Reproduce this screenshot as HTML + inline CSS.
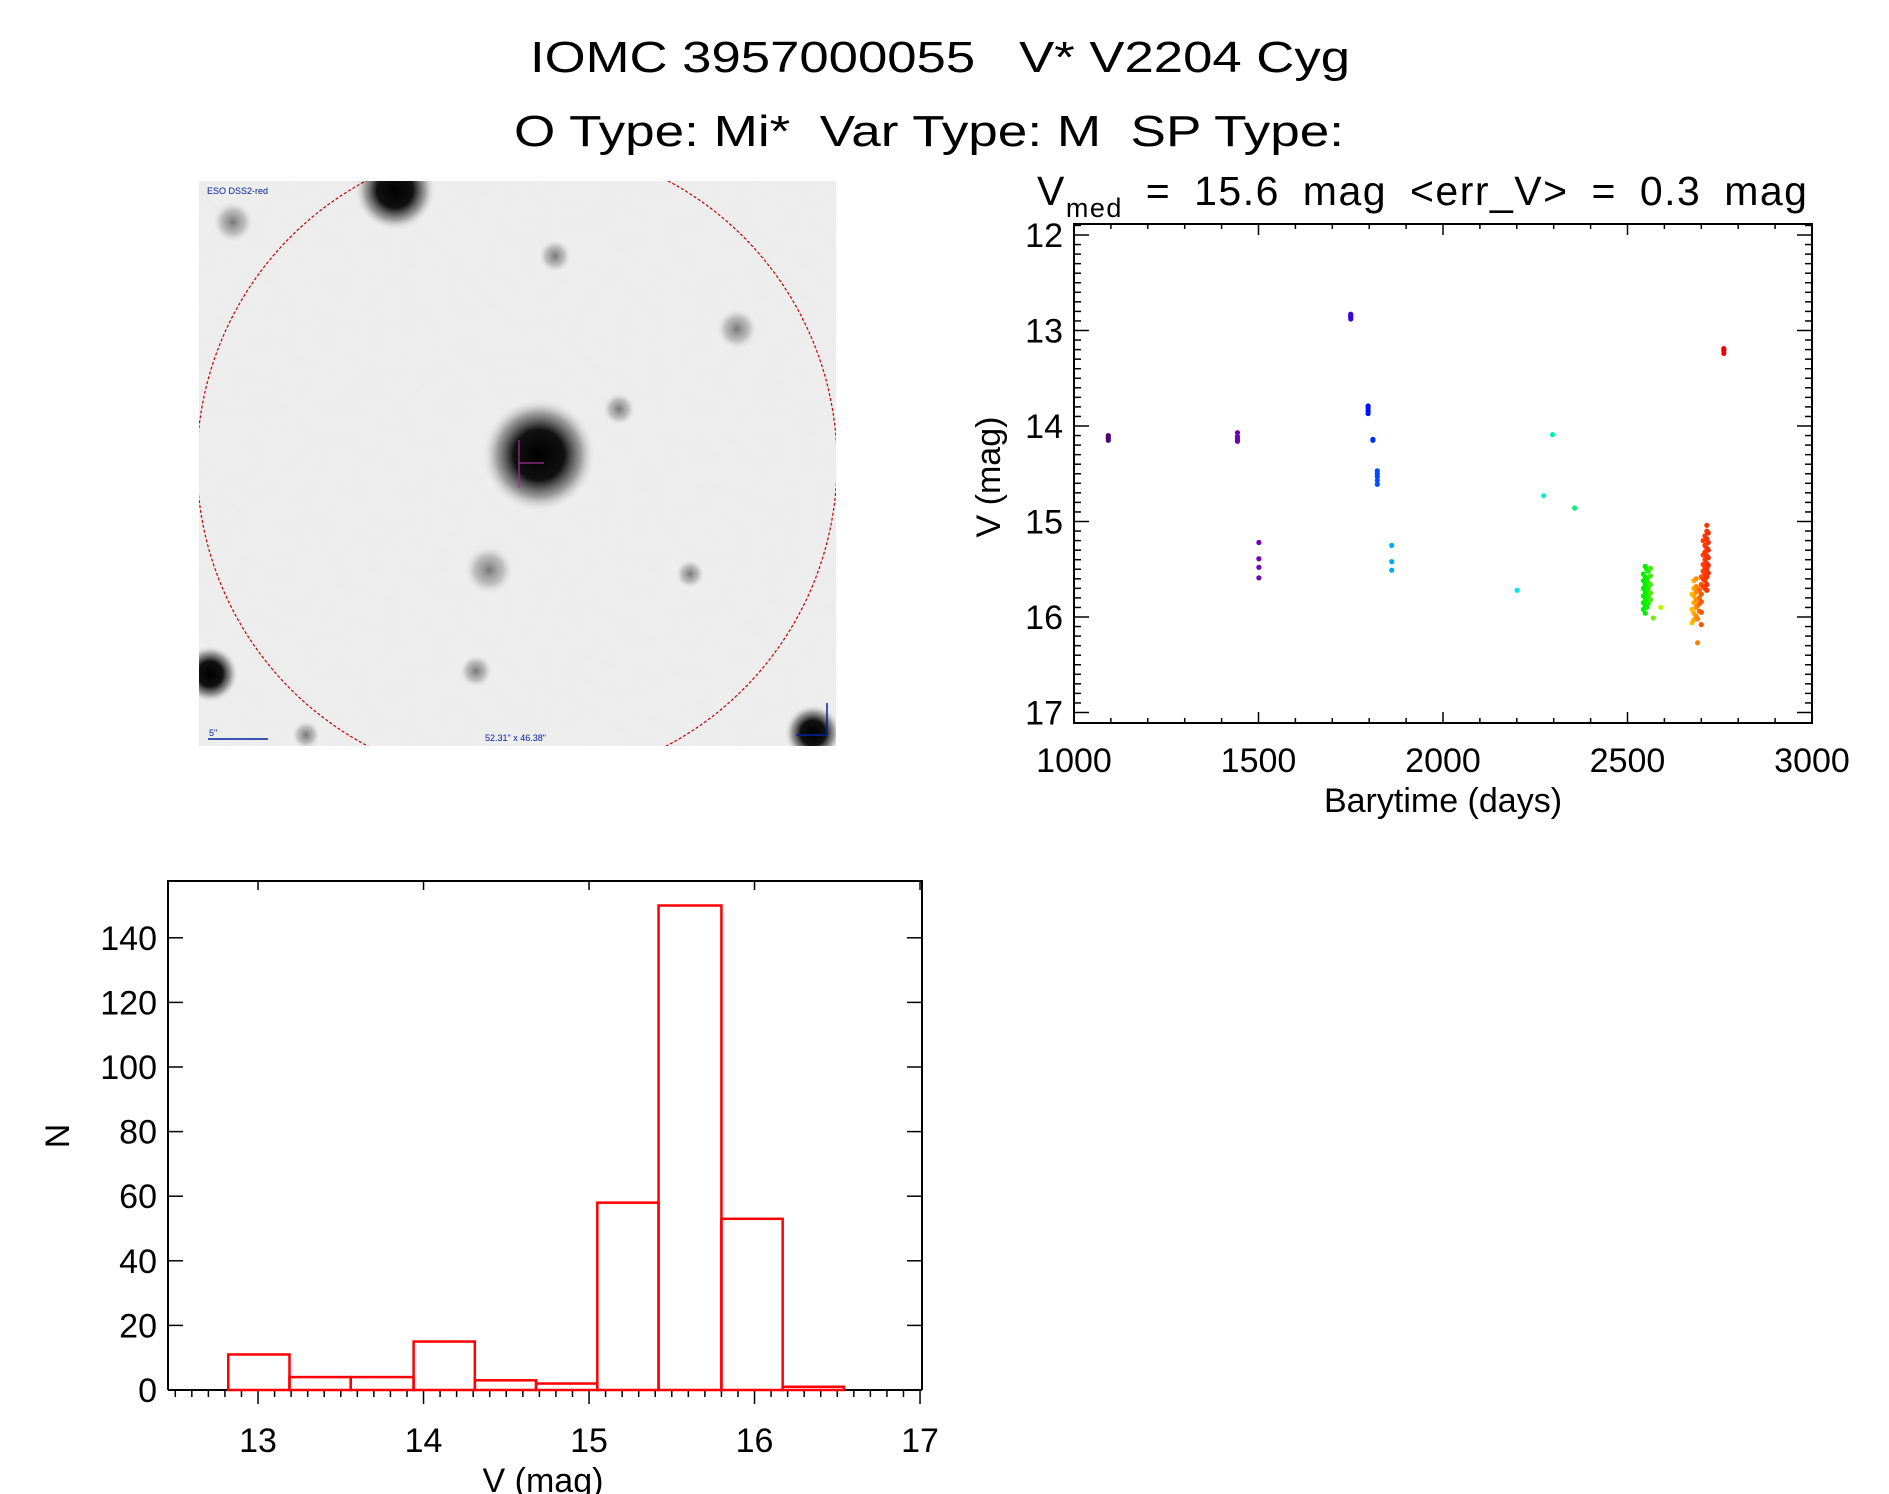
<!DOCTYPE html>
<html><head><meta charset="utf-8"><style>
html,body{margin:0;padding:0;background:#fff;}
svg{display:block;font-family:"Liberation Sans",sans-serif;}
.pre{white-space:pre;}
</style></head><body>
<svg id="fig" width="1889" height="1494" viewBox="0 0 1889 1494" xmlns="http://www.w3.org/2000/svg">
<defs>
<radialGradient id="star"><stop offset="0" stop-color="#000"/><stop offset="0.45" stop-color="#111"/><stop offset="0.75" stop-color="#888" stop-opacity="0.8"/><stop offset="1" stop-color="#ddd" stop-opacity="0"/></radialGradient>
<radialGradient id="faint"><stop offset="0" stop-color="#777"/><stop offset="0.6" stop-color="#aaa" stop-opacity="0.7"/><stop offset="1" stop-color="#ddd" stop-opacity="0"/></radialGradient>
<clipPath id="imgclip"><rect x="199" y="181" width="637" height="565"/></clipPath>
<filter id="noise" x="0" y="0" width="100%" height="100%"><feTurbulence type="fractalNoise" baseFrequency="0.06" numOctaves="1" seed="3"/><feColorMatrix type="matrix" values="0 0 0 0 0.92  0 0 0 0 0.92  0 0 0 0 0.92  0.6 0 0 -0.2 0"/></filter>
</defs>

<text class="pre" x="940" y="72" font-size="44" text-anchor="middle" textLength="820" lengthAdjust="spacingAndGlyphs">IOMC 3957000055   V* V2204 Cyg</text>
<text class="pre" x="929" y="146" font-size="44" text-anchor="middle" textLength="830" lengthAdjust="spacingAndGlyphs">O Type: Mi*  Var Type: M  SP Type:</text>

<g clip-path="url(#imgclip)">
<rect x="199" y="181" width="637" height="565" fill="#ececec"/>
<rect x="199" y="181" width="637" height="565" fill="#fff" filter="url(#noise)" opacity="0.6"/>
<circle cx="539" cy="455" r="56" fill="url(#star)"/>
<circle cx="395" cy="190" r="40" fill="url(#star)"/>
<circle cx="210" cy="674" r="28" fill="url(#star)"/>
<circle cx="813" cy="733" r="28" fill="url(#star)"/>
<circle cx="489" cy="570" r="24" fill="url(#faint)"/>
<circle cx="233" cy="222" r="20" fill="url(#faint)"/>
<circle cx="555" cy="256" r="16" fill="url(#faint)"/>
<circle cx="737" cy="329" r="20" fill="url(#faint)"/>
<circle cx="619" cy="409" r="16" fill="url(#faint)"/>
<circle cx="476" cy="671" r="16" fill="url(#faint)"/>
<circle cx="690" cy="574" r="14" fill="url(#faint)"/>
<circle cx="306" cy="735" r="14" fill="url(#faint)"/>
<circle cx="517" cy="463" r="320" fill="none" stroke="#c00" stroke-width="1.2" stroke-dasharray="3,2"/>
<line x1="519" y1="463" x2="544" y2="463" stroke="#a03090" stroke-width="1.2"/>
<line x1="519" y1="440" x2="519" y2="488" stroke="#a03090" stroke-width="1.2"/>
<text x="207" y="194" font-size="9" fill="#0020a0">ESO DSS2-red</text>
<line x1="208" y1="739" x2="268" y2="739" stroke="#0020a0" stroke-width="1.5"/>
<text x="209" y="736" font-size="9" fill="#0020a0">5"</text>
<text x="485" y="741" font-size="9" fill="#0020a0">52.31" x 46.38"</text>
<polyline points="827,703 827,735 796,735" fill="none" stroke="#0020a0" stroke-width="1.5"/>
</g>

<g id="lc"></g>
<g id="hist"></g>
</svg>
<script>
// ---- light curve data ----
const lcTimes = [1093,1093,1093,1093, 1443,1443,1443,1443,1443, 1501,1501,1501,1501, 1750,1750,1750,1750, 1797,1797,1797,1797, 1810,1810, 1822,1822,1822,1822,1822, 1861,1861,1861, 2201, 2273, 2297, 2357,
 2543,2543,2543,2543,2543,2543, 2548,2548,2548,2548,2548,2548,2548, 2552,2552,2552,2552,2552,2552,2552, 2556,2556,2556,2556,2556, 2562,2562,2562,2562,2562, 2570, 2590,
 2675,2675,2675, 2680,2680,2680,2680,2680,2680, 2686,2686,2686,2686,2686,2686, 2690,2690,2690,2690, 2695,2695,2695,2695, 2700,2700,2700,2700,2700,2700,
 2705,2705,2705,2705,2705,2705, 2710,2710,2710,2710,2710,2710,2710,2710, 2715,2715,2715,2715,2715,2715,2715,2715,2715,2715, 2719,2719,2719,2719,2719,2719, 2761,2761,2761];
const lcMags = [14.10,14.12,14.13,14.15, 14.07,14.11,14.13,14.15,14.16, 15.22,15.39,15.48,15.59, 12.83,12.85,12.86,12.88, 13.79,13.81,13.84,13.87, 14.14,14.15, 14.47,14.50,14.53,14.57,14.61, 15.25,15.42,15.51, 15.72, 14.73, 14.09, 14.86,
 15.55,15.62,15.70,15.78,15.85,15.92, 15.47,15.58,15.66,15.74,15.80,15.88,15.96, 15.50,15.60,15.68,15.72,15.76,15.83,15.90, 15.52,15.64,15.70,15.79,15.86, 15.49,15.57,15.66,15.75,15.82, 16.01, 15.90,
 15.76,15.92,16.06, 15.62,15.70,15.78,15.85,15.96,16.03, 15.60,15.68,15.74,15.82,15.90,15.99, 16.27,15.70,15.88,16.02, 15.72,15.80,15.86,15.94, 15.58,15.66,15.76,15.84,15.95,16.08,
 15.20,15.35,15.45,15.52,15.60,15.68, 15.15,15.25,15.32,15.40,15.48,15.55,15.62,15.70, 15.04,15.10,15.18,15.28,15.36,15.44,15.50,15.58,15.66,15.72, 15.12,15.22,15.30,15.38,15.46,15.54, 13.19,13.21,13.24];
const lcXTicks = [1000,1500,2000,2500,3000];
const lcYTicks = [12,13,14,15,16,17];
// ---- histogram data ----
const histEdges = [12.82,13.19,13.56,13.94,14.31,14.68,15.05,15.42,15.80,16.17,16.54];
const histCounts = [11,4,4,15,3,2,58,150,53,1];
const histXTicks = [13,14,15,16,17];
const histYTicks = [0,20,40,60,80,100,120,140];

const NS='http://www.w3.org/2000/svg';
function mk(parent, tag, attrs){const e=document.createElementNS(NS,tag);for(const k in attrs)e.setAttribute(k,attrs[k]);parent.appendChild(e);return e;}

// ===== Light curve =====
const lc=document.getElementById('lc');
const L={x0:1074,x1:1812,y0:224,y1:723};
const xL=t=>L.x0+(t-1000)/2000*(L.x1-L.x0);
const yL=m=>235+(m-12)*95.5;
let e=mk(lc,'rect',{x:L.x0,y:L.y0,width:L.x1-L.x0,height:L.y1-L.y0,fill:'none',stroke:'#000','stroke-width':2});


for(let t=1000;t<=3000;t+=100){
  const big=(t%500===0), len=big?11:5, x=xL(t);
  mk(lc,'line',{x1:x,y1:L.y1,x2:x,y2:L.y1-len,stroke:'#000','stroke-width':1.5});
  mk(lc,'line',{x1:x,y1:L.y0,x2:x,y2:L.y0+len,stroke:'#000','stroke-width':1.5});
}
for(let i=0;i<=51;i++){
  const m=11.9+i*0.1; const y=yL(m); if(y<L.y0||y>L.y1) continue;
  const big=Math.abs(m-Math.round(m))<0.01, len=big?15:7;
  mk(lc,'line',{x1:L.x0,y1:y,x2:L.x0+len,y2:y,stroke:'#000','stroke-width':1.5});
  mk(lc,'line',{x1:L.x1,y1:y,x2:L.x1-len,y2:y,stroke:'#000','stroke-width':1.5});
}
lcXTicks.forEach(t=>{
  e=mk(lc,'text',{x:xL(t),y:772,'font-size':34,'text-anchor':'middle'});e.textContent=t;
  
  
});
lcYTicks.forEach(m=>{
  e=mk(lc,'text',{x:1063,y:yL(m)+12,'font-size':34,'text-anchor':'end'});e.textContent=m;
  
  
});
e=mk(lc,'text',{x:1443,y:812,'font-size':34,'text-anchor':'middle'});e.textContent='Barytime (days)';


e=mk(lc,'text',{x:1000,y:477,'font-size':34,'text-anchor':'middle',transform:'rotate(-90 1000 477)'});e.textContent='V (mag)';


e=mk(lc,'text',{x:1037,y:205,'font-size':41,'letter-spacing':'1.5','word-spacing':'10'});
e.innerHTML='V<tspan font-size="27" dy="12">med</tspan><tspan dy="-12"> = 15.6 mag &lt;err_V&gt; = 0.3 mag</tspan>';


const anchors=[[1093,285,22],[1501,275,38],[1750,255,45],[1800,235,50],[1860,200,50],[2200,185,48],[2360,150,47],[2550,120,47],[2585,75,48],[2675,45,50],[2705,15,50],[2761,0,48]];
function colorFor(t){
  for(let i=0;i<anchors.length-1;i++){const a=anchors[i],b=anchors[i+1];
    if(t<=b[0]){const f=Math.max(0,(t-a[0])/(b[0]-a[0]));return `hsl(${a[1]+(b[1]-a[1])*f},100%,${a[2]+(b[2]-a[2])*f}%)`;}}
  return 'hsl(0,100%,48%)';
}
lcTimes.forEach((t,i)=>{
  const p=mk(lc,'circle',{cx:xL(t),cy:yL(lcMags[i]),r:2.6,fill:colorFor(t)});
  
  
});

// ===== Histogram =====
const hg=document.getElementById('hist');
const H={x0:168,x1:922,y0:881,y1:1390};
const xH=v=>H.x0+(v-12.456)*165.5;
const yH=n=>H.y1-n*3.23;
e=mk(hg,'polyline',{points:`${H.x0},${H.y1} ${H.x0},${H.y0} ${H.x1},${H.y0} ${H.x1},${H.y1}`,fill:'none',stroke:'#000','stroke-width':2});


mk(hg,'line',{x1:H.x0,y1:H.y1,x2:H.x1,y2:H.y1,stroke:'#000','stroke-width':2});
for(let i=0;i<=45;i++){
  const v=12.5+i*0.1, x=xH(v); if(x>H.x1+1) continue;
  const big=Math.abs(v-Math.round(v))<0.01;
  mk(hg,'line',{x1:x,y1:H.y1,x2:x,y2:H.y1+(big?14:7),stroke:'#000','stroke-width':1.5});
  if(big) mk(hg,'line',{x1:x,y1:H.y0,x2:x,y2:H.y0+9,stroke:'#000','stroke-width':1.5});
}
histYTicks.forEach(n=>{
  const y=yH(n);
  mk(hg,'line',{x1:H.x0,y1:y,x2:H.x0+15,y2:y,stroke:'#000','stroke-width':1.5});
  mk(hg,'line',{x1:H.x1,y1:y,x2:H.x1-15,y2:y,stroke:'#000','stroke-width':1.5});
  e=mk(hg,'text',{x:157,y:y+12,'font-size':34,'text-anchor':'end'});e.textContent=n;
  
  
});
histXTicks.forEach(v=>{
  e=mk(hg,'text',{x:xH(v),y:1452,'font-size':34,'text-anchor':'middle'});e.textContent=v;
  
  
});
e=mk(hg,'text',{x:543,y:1492,'font-size':34,'text-anchor':'middle'});e.textContent='V (mag)';


e=mk(hg,'text',{x:69,y:1136,'font-size':34,'text-anchor':'middle',transform:'rotate(-90 69 1136)'});e.textContent='N';


histCounts.forEach((n,i)=>{
  const x0=xH(histEdges[i]), x1=xH(histEdges[i+1]);
  const b=mk(hg,'rect',{x:x0,y:yH(n),width:x1-x0,height:H.y1-yH(n),fill:'none',stroke:'#f00','stroke-width':2.5});
  
  
});
</script>
</body></html>
